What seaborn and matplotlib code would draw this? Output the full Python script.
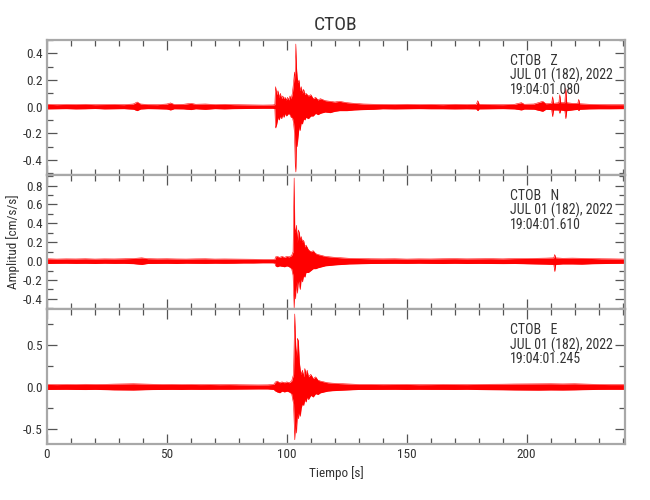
import matplotlib
matplotlib.use("Agg")
import matplotlib.pyplot as plt
import seaborn as sns
from matplotlib import font_manager
from matplotlib.ticker import MultipleLocator

station = "CTOB"
components = ["Z", "N", "E"]
date_label = "JUL 01 (182), 2022"
start_times = ["19:04:01.080", "19:04:01.610", "19:04:01.245"]

# trace envelopes: time [s], upper / lower amplitude [cm/s/s]
t_z = [
    0, 4, 8, 12, 16, 20, 24, 28, 32, 36,
    37.6, 39, 42, 46, 50, 51.5, 53, 57, 60, 62,
    66, 70, 74, 78, 82, 86, 90, 94, 95, 95.3,
    95.8, 96.3, 96.8, 97.3, 97.8, 98.3, 98.8, 99.3, 99.8, 100.3,
    100.8, 101.3, 101.8, 102.3, 102.8, 103.2, 103.5, 103.75, 104.0, 104.3,
    104.7, 105.1, 105.5, 106, 106.5, 107, 107.5, 108, 109, 110,
    111, 112, 113, 114, 116, 118, 120, 122, 125, 128,
    132, 136, 140, 145, 150, 155, 160, 165, 170, 175,
    179, 179.6, 180.2, 185, 190, 195, 197.8, 199, 203, 206.7,
    208, 210.4, 210.8, 211.2, 213.4, 213.8, 214.2, 215.9, 216.3, 216.7,
    219, 221.3, 221.7, 222.1, 226, 230, 235, 241]
up_z = [
    .018, .015, .017, .016, .018, .015, .016, .017, .015, .020,
    .035, .020, .016, .015, .020, .028, .017, .018, .025, .018,
    .020, .016, .018, .015, .014, .013, .012, .013, .015, .150,
    .090, .120, .070, .100, .060, .080, .060, .070, .050, .070,
    .050, .080, .060, .100, .180, .260, .200, .470, .300, .220,
    .180, .200, .120, .150, .100, .130, .090, .100, .080, .090,
    .060, .070, .050, .060, .045, .040, .035, .040, .030, .025,
    .020, .018, .017, .016, .018, .016, .017, .015, .018, .016,
    .018, .045, .018, .016, .015, .018, .030, .018, .020, .040,
    .022, .025, .075, .025, .030, .090, .030, .030, .140, .030,
    .025, .025, .055, .022, .018, .016, .015, .015]
lo_z = [
    -.017, -.016, -.015, -.017, -.016, -.014, -.017, -.016, -.015, -.019,
    -.030, -.018, -.015, -.016, -.018, -.025, -.016, -.017, -.022, -.016,
    -.020, -.015, -.017, -.015, -.014, -.013, -.012, -.012, -.015, -.160,
    -.130, -.080, -.100, -.070, -.090, -.060, -.080, -.050, -.070, -.060,
    -.050, -.060, -.080, -.080, -.120, -.200, -.430, -.490, -.250, -.300,
    -.220, -.150, -.180, -.120, -.130, -.090, -.100, -.080, -.090, -.070,
    -.070, -.050, -.060, -.050, -.040, -.045, -.035, -.030, -.030, -.025,
    -.022, -.020, -.016, -.017, -.016, -.015, -.016, -.016, -.017, -.016,
    -.017, -.030, -.017, -.016, -.015, -.017, -.025, -.018, -.019, -.035,
    -.020, -.022, -.075, -.025, -.025, -.050, -.025, -.030, -.090, -.030,
    -.025, -.020, -.030, -.020, -.017, -.016, -.016, -.015]

t_n = [
    0, 4, 8, 12, 16, 20, 24, 28, 32, 36,
    39.5, 42, 46, 50, 54, 58, 62, 66, 70, 74,
    78, 82, 86, 90, 94, 95, 95.3, 96, 97, 98,
    99, 100, 101, 102, 102.6, 103.05, 103.3, 103.6, 104, 104.4,
    104.8, 105.2, 105.6, 106, 106.5, 107, 107.5, 108, 109, 110,
    111, 112, 113, 114.5, 116, 118, 120, 123, 126, 130,
    135, 140, 145, 150, 155, 160, 165, 170, 175, 180,
    185, 190, 195, 200, 204, 208, 211.3, 211.7, 212.1, 215,
    219, 223, 227, 231, 235, 241]
up_n = [
    .025, .022, .024, .023, .025, .022, .024, .023, .025, .028,
    .035, .026, .024, .025, .023, .022, .024, .025, .022, .023,
    .022, .021, .020, .018, .018, .020, .045, .050, .040, .050,
    .040, .050, .045, .060, .100, .880, .350, .300, .380, .200,
    .330, .300, .220, .260, .200, .220, .150, .170, .120, .100,
    .110, .080, .070, .060, .050, .045, .040, .035, .030, .028,
    .025, .024, .025, .022, .024, .023, .025, .026, .024, .025,
    .026, .024, .027, .028, .030, .032, .035, .070, .035, .030,
    .032, .030, .028, .025, .024, .022]
lo_n = [
    -.025, -.023, -.022, -.024, -.023, -.025, -.022, -.024, -.023, -.027,
    -.035, -.025, -.024, -.023, -.025, -.022, -.023, -.024, -.022, -.023,
    -.022, -.020, -.020, -.018, -.018, -.020, -.050, -.060, -.050, -.055,
    -.060, -.050, -.060, -.080, -.150, -.500, -.300, -.400, -.200, -.340,
    -.200, -.250, -.300, -.180, -.220, -.150, -.170, -.120, -.120, -.100,
    -.080, -.080, -.070, -.060, -.050, -.045, -.040, -.035, -.030, -.028,
    -.025, -.024, -.023, -.024, -.022, -.024, -.025, -.023, -.025, -.024,
    -.025, -.026, -.025, -.028, -.030, -.032, -.035, -.110, -.035, -.030,
    -.030, -.032, -.028, -.026, -.024, -.022]

t_e = [
    0, 4, 8, 12, 16, 20, 24, 28, 32, 36,
    40, 44, 48, 52, 56, 60, 64, 68, 72, 76,
    80, 84, 88, 92, 94.5, 95.3, 96, 97, 98, 99,
    100, 101, 102, 102.8, 103.3, 103.6, 104, 104.4, 104.8, 105.2,
    105.6, 106, 106.5, 107, 107.5, 108, 108.5, 109, 110, 111,
    112, 113, 114, 115.5, 117, 119, 122, 126, 130, 135,
    140, 145, 150, 155, 160, 165, 170, 175, 180, 185,
    190, 195, 200, 205, 210, 215, 220, 225, 230, 235,
    241]
up_e = [
    .030, .028, .030, .029, .032, .030, .031, .034, .036, .038,
    .035, .032, .030, .031, .029, .030, .028, .029, .027, .028,
    .026, .025, .024, .025, .030, .060, .070, .050, .060, .050,
    .060, .050, .070, .150, .870, .500, .350, .580, .550, .300,
    .200, .150, .200, .120, .220, .150, .200, .120, .150, .100,
    .120, .080, .070, .060, .050, .045, .040, .035, .030, .030,
    .028, .029, .030, .027, .028, .030, .029, .028, .030, .032,
    .033, .035, .036, .037, .038, .036, .038, .034, .030, .028,
    .028]
lo_e = [
    -.030, -.029, -.028, -.030, -.031, -.029, -.032, -.035, -.036, -.037,
    -.034, -.031, -.030, -.029, -.030, -.028, -.029, -.028, -.027, -.027,
    -.026, -.025, -.024, -.024, -.030, -.050, -.060, -.070, -.050, -.060,
    -.050, -.060, -.080, -.200, -.630, -.400, -.550, -.300, -.380, -.300,
    -.350, -.250, -.200, -.220, -.150, -.180, -.120, -.150, -.100, -.120,
    -.080, -.090, -.070, -.060, -.050, -.045, -.040, -.035, -.030, -.030,
    -.029, -.028, -.030, -.028, -.029, -.029, -.030, -.028, -.031, -.033,
    -.034, -.036, -.037, -.038, -.036, -.037, -.035, -.032, -.029, -.028,
    -.028]

traces = [(t_z, up_z, lo_z), (t_n, up_n, lo_n), (t_e, up_e, lo_e)]
y_limits = [(-0.51, 0.50), (-0.51, 0.915), (-0.68, 0.925)]
y_major = [0.2, 0.2, 0.5]
y_minor = [0.1, 0.1, 0.25]

sns.set_theme(style="ticks")
# the original uses a narrow plotter font; take a condensed face when one exists
installed = {f.name for f in font_manager.fontManager.ttflist}
narrow = [n for n in ["Liberation Sans Narrow", "Roboto Condensed",
                      "Open Sans Condensed", "DejaVu Sans Condensed"] if n in installed]
plt.rcParams["font.family"] = narrow + ["DejaVu Sans"]
plt.rcParams["font.stretch"] = "condensed"
plt.rcParams["axes.unicode_minus"] = False

text_col = "#333333"
fs = 9.5
fig, axes = plt.subplots(3, 1, figsize=(6.5, 5), dpi=100, sharex=True)
fig.subplots_adjust(left=47 / 650, right=625 / 650, top=1 - 40 / 500,
                    bottom=1 - 444 / 500, hspace=0)

for i, ax in enumerate(axes):
    t, up, lo = traces[i]
    # filled band between the envelopes, edges drawn as thin lines
    ax.fill_between(t, lo, up, color="red", lw=0)
    sns.lineplot(x=t, y=up, ax=ax, color="red", lw=0.4)
    sns.lineplot(x=t, y=lo, ax=ax, color="red", lw=0.4)

    ax.set_xlim(0, 241)
    ax.set_ylim(*y_limits[i])
    ax.xaxis.set_major_locator(MultipleLocator(50))
    ax.xaxis.set_minor_locator(MultipleLocator(10))
    ax.yaxis.set_major_locator(MultipleLocator(y_major[i]))
    ax.yaxis.set_minor_locator(MultipleLocator(y_minor[i]))
    ax.yaxis.set_major_formatter(plt.FormatStrFormatter("%.1f"))

    for s in ax.spines.values():
        s.set_color("#a8a8a8")
        s.set_linewidth(1.6)
    ax.tick_params(which="both", direction="in", top=True, right=True,
                   color="#555555", labelcolor=text_col, labelsize=fs, pad=3)
    ax.tick_params(which="major", length=7, width=0.9)
    ax.tick_params(which="minor", length=4, width=0.9)

    lines = [f"{station}   {components[i]}", date_label, start_times[i]]
    for j, txt in enumerate(lines):
        ax.annotate(txt, xy=(0.801, 1), xycoords="axes fraction",
                    xytext=(0, -21 - 14.5 * j), textcoords="offset pixels",
                    ha="left", va="center", fontsize=10, color=text_col)

axes[0].set_title(station, fontsize=14, color=text_col, pad=7)
axes[1].set_ylabel("Amplitud [cm/s/s]", fontsize=fs, color=text_col)
axes[1].yaxis.set_label_coords(-27 / 578, 0.5)
axes[2].set_xlabel("Tiempo [s]", fontsize=fs, color=text_col, va="top")
axes[2].xaxis.set_label_coords(0.5, -22 / 134.7)

fig.savefig("out.png", dpi=100)
